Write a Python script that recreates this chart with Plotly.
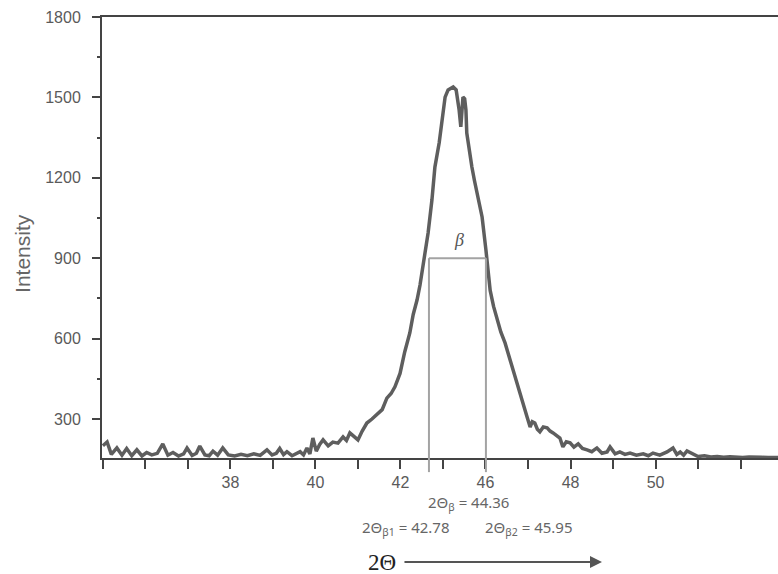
import plotly.graph_objects as go

# ---- data ----
two_theta = [35.0, 35.1, 35.2, 35.33, 35.45, 35.56, 35.68, 35.8, 35.92, 36.03,
             36.15, 36.28, 36.41, 36.53, 36.65, 36.78, 36.9, 36.98, 37.1, 37.2,
             37.28, 37.4, 37.5, 37.59, 37.7, 37.82, 37.95, 38.1, 38.25, 38.4,
             38.55, 38.7, 38.86, 38.98, 39.08, 39.16, 39.25, 39.33, 39.45, 39.55,
             39.64, 39.72, 39.8, 39.87, 39.94, 40.02, 40.1, 40.18, 40.3, 40.41,
             40.53, 40.65, 40.73, 40.81, 40.9, 41.0, 41.1, 41.21, 41.33, 41.45,
             41.57, 41.68, 41.78, 41.87, 41.99, 42.1, 42.22, 42.3, 42.39, 42.46,
             42.53, 42.6, 42.65, 42.74, 42.81, 42.91, 43.0, 43.05, 43.12, 43.18,
             43.24, 43.31, 43.35, 43.38, 43.42, 43.45, 43.47, 43.51, 43.54, 43.56,
             43.62, 43.68, 43.74, 43.8, 43.86, 43.92, 44.01, 44.11, 44.19, 44.27,
             44.36, 44.46, 44.54, 44.62, 44.74, 44.86, 44.98, 45.05, 45.1, 45.16,
             45.22, 45.28, 45.36, 45.45, 45.52, 45.59, 45.67, 45.75, 45.82, 45.9,
             45.99, 46.08, 46.18, 46.28, 46.39, 46.5, 46.62, 46.74, 46.86, 46.93,
             47.05, 47.16, 47.28, 47.4, 47.55, 47.71, 47.83, 47.94, 48.1, 48.27,
             48.41, 48.5, 48.58, 48.66, 48.74, 48.88, 49.0, 49.15, 49.3, 49.45,
             49.6, 49.75, 49.9, 50.05, 50.2, 50.35, 50.5, 50.65, 50.8, 50.88]

intensity = [200, 214, 168, 192, 165, 190, 163, 185, 162, 175,
             166, 172, 207, 165, 175, 162, 170, 192, 164, 172,
             199, 166, 163, 180, 165, 192, 166, 162, 168, 163,
             170, 164, 185, 166, 172, 190, 167, 178, 163, 170,
             178, 166, 192, 170, 229, 180, 205, 222, 200, 214,
             210, 233, 220, 248, 235, 222, 255, 285, 300, 318,
             335, 378, 395, 420, 470, 550, 621, 690, 744, 800,
             867, 930, 994, 1117, 1240, 1330, 1453, 1501, 1528, 1535,
             1539, 1528, 1490, 1453, 1390, 1470, 1501, 1495, 1453, 1367,
             1300, 1240, 1190, 1143, 1100, 1054, 931, 780, 720, 669,
             625, 584, 540, 494, 434, 371, 307, 270, 290, 285,
             262, 252, 270, 267, 255, 248, 240, 229, 196, 215,
             211, 195, 207, 190, 185, 178, 192, 172, 177, 196,
             170, 177, 168, 173, 165, 170, 163, 173, 165, 177,
             192, 168, 177, 165, 181, 170, 160, 163, 158, 160,
             157, 159, 157, 156, 158, 156, 157, 156, 156, 156]

x_tick_vals = [35, 36, 37, 38, 39, 40, 41, 42, 43, 44, 45, 46, 47, 48, 49, 50]
x_tick_text = ["", "", "", "38", "", "40", "", "42", "", "46", "", "48", "", "50", "", ""]
y_tick_vals = [300, 600, 900, 1200, 1500, 1800]
y_minor_vals = [450, 750, 1050, 1350, 1650]

beta_bounds = [42.67, 44.01]   # vertical marker positions (axis units)
beta_level = 900               # half-maximum level

ann_beta = "2Θ<sub>β</sub> = 44.36"
ann_beta1 = "2Θ<sub>β1</sub> = 42.78"
ann_beta2 = "2Θ<sub>β2</sub> = 45.95"

x_range = [34.98, 50.88]
y_range = [154.5, 1800]

fig = go.Figure()
fig.add_trace(go.Scatter(
    x=two_theta, y=intensity, mode="lines",
    line=dict(color="#5e5e5e", width=3.5), showlegend=False, hoverinfo="skip"))

def ypaper(v):
    return (v - y_range[0]) / (y_range[1] - y_range[0])

shape_color = "#a3a3a3"
for bx in beta_bounds:
    fig.add_shape(type="line", xref="x", yref="paper", x0=bx, x1=bx,
                  y0=-0.032, y1=ypaper(beta_level),
                  line=dict(color=shape_color, width=2))
fig.add_shape(type="line", xref="x", yref="y", x0=beta_bounds[0], x1=beta_bounds[1],
              y0=beta_level, y1=beta_level, line=dict(color=shape_color, width=2))

ann_font = dict(family="Noto Sans", size=15, color="#666666")
fig.add_annotation(x=43.38, y=968, xref="x", yref="y", text="<i>β</i>", showarrow=False,
                   xanchor="center", yanchor="middle",
                   font=dict(family="Liberation Serif", size=18, color="#555555"))
fig.add_annotation(x=43.61, y=-0.102, xref="x", yref="paper", text=ann_beta,
                   showarrow=False, xanchor="center", yanchor="middle", font=ann_font)
fig.add_annotation(x=42.11, y=-0.158, xref="x", yref="paper", text=ann_beta1,
                   showarrow=False, xanchor="center", yanchor="middle", font=ann_font)
fig.add_annotation(x=45.0, y=-0.158, xref="x", yref="paper", text=ann_beta2,
                   showarrow=False, xanchor="center", yanchor="middle", font=ann_font)
fig.add_annotation(x=41.56, y=-0.236, xref="x", yref="paper", text="2Θ",
                   showarrow=False, xanchor="center", yanchor="middle",
                   font=dict(family="Liberation Serif", size=23, color="#222222"))
fig.add_annotation(x=46.74, y=-0.236, xref="x", yref="paper", text="",
                   showarrow=True, axref="pixel", ayref="pixel", ax=-199, ay=0,
                   arrowhead=2, arrowsize=1.2, arrowwidth=2, arrowcolor="#555555")
fig.add_annotation(x=0, y=916, xref="paper", yref="y", xshift=-79, text="Intensity",
                   textangle=-90, showarrow=False, xanchor="center", yanchor="middle",
                   font=dict(family="Liberation Sans", size=21, color="#666666"))

fig.update_layout(
    width=778, height=574,
    margin=dict(l=102, r=0, t=17, b=116),
    paper_bgcolor="white", plot_bgcolor="white",
    font=dict(family="Liberation Sans", color="#5a5a5a"),
    xaxis=dict(range=x_range, tickmode="array", tickvals=x_tick_vals,
               ticktext=x_tick_text, ticks="outside", ticklen=9, tickwidth=2,
               tickcolor="#444444", showline=True, linecolor="#444444", linewidth=2,
               mirror=True, showgrid=False, zeroline=False,
               tickfont=dict(size=16, color="#5a5a5a"), ticklabelstandoff=0),
    yaxis=dict(range=y_range, tickmode="array", tickvals=y_tick_vals,
               ticks="outside", ticklen=8, tickwidth=2, tickcolor="#444444",
               showline=True, linecolor="#444444", linewidth=2, showgrid=False,
               zeroline=False, tickfont=dict(size=16, color="#5a5a5a"),
               ticklabelstandoff=8,
               minor=dict(tickmode="array", tickvals=y_minor_vals, ticks="outside",
                          ticklen=3, tickwidth=2, tickcolor="#444444")),
)

fig.write_html("out.html", config={"displayModeBar": False},
               post_script="document.body.style.margin='0';document.body.style.overflow='hidden';")
